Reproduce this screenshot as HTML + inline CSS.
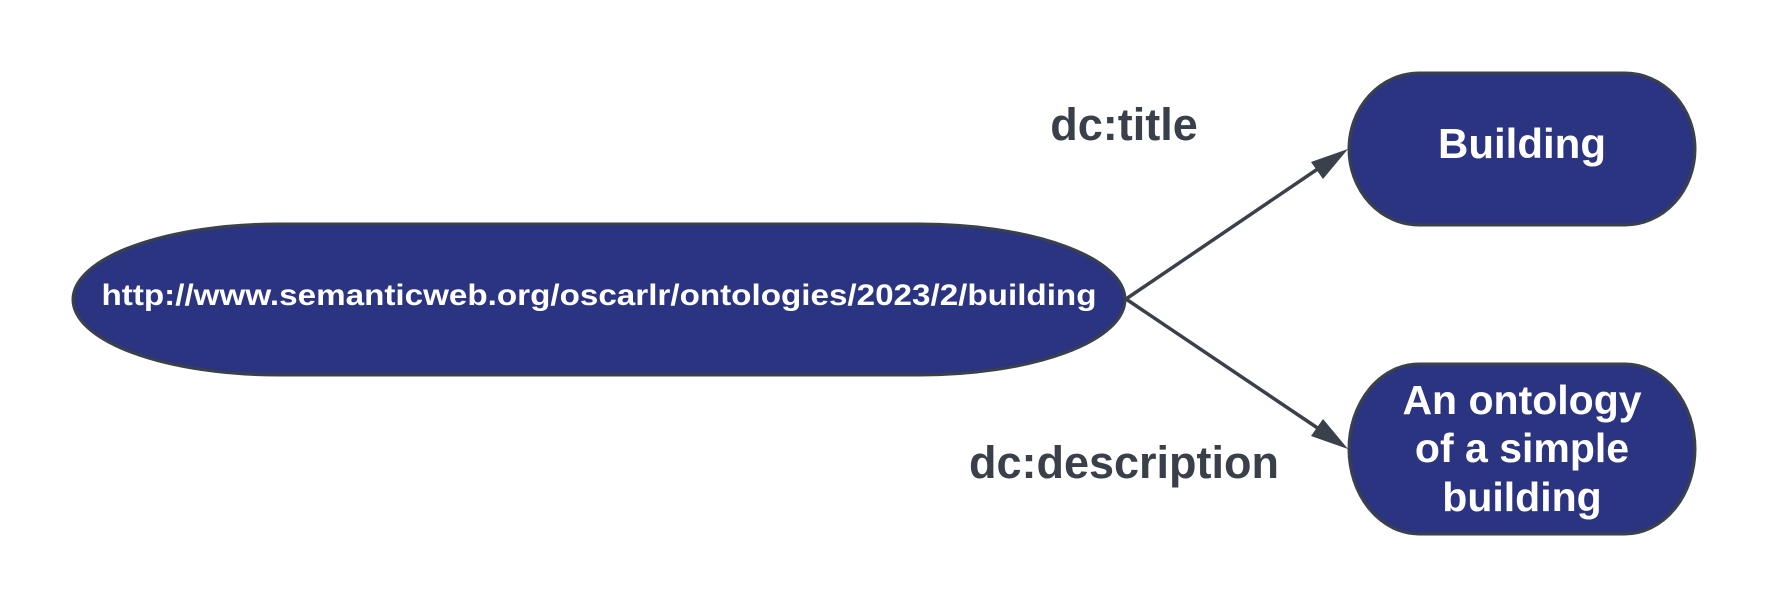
<!DOCTYPE html>
<html><head><meta charset="utf-8"><style>
html,body{margin:0;padding:0;background:#fff;}
body{width:1770px;height:609px;overflow:hidden;}
</style></head><body>
<svg width="1770" height="609" viewBox="0 0 1770 609" xmlns="http://www.w3.org/2000/svg" font-family="Liberation Sans, sans-serif" font-weight="bold">
<rect x="73" y="224" width="1052" height="151" rx="205" ry="75.5" fill="#2b3481" stroke="#3a414a" stroke-width="3"/>
<rect x="1349" y="73" width="346" height="152" rx="70" ry="76" fill="#2b3481" stroke="#3a414a" stroke-width="3"/>
<rect x="1349" y="364" width="346" height="170" rx="70" ry="85" fill="#2b3481" stroke="#3a414a" stroke-width="3"/>
<line x1="1126" y1="299" x2="1325" y2="164" stroke="#3a414a" stroke-width="3.5"/>
<polygon points="1348,149 1323,179 1311,162" fill="#3a414a"/>
<line x1="1126" y1="299" x2="1325" y2="433" stroke="#3a414a" stroke-width="3.5"/>
<polygon points="1348,449 1311,436 1323,419" fill="#3a414a"/>
<text x="599" y="305" font-size="30" fill="#fff" text-anchor="middle" textLength="995" lengthAdjust="spacingAndGlyphs">http://www.semanticweb.org/oscarlr/ontologies/2023/2/building</text>
<text x="1522" y="158" font-size="42" fill="#fff" text-anchor="middle">Building</text>
<text x="1522" y="414" font-size="41" fill="#fff" text-anchor="middle">An ontology</text>
<text x="1522" y="462" font-size="41" fill="#fff" text-anchor="middle">of a simple</text>
<text x="1522" y="511" font-size="41" fill="#fff" text-anchor="middle">building</text>
<text x="1124" y="140" font-size="45" fill="#39404a" text-anchor="middle">dc:title</text>
<text x="1124" y="478" font-size="45" fill="#39404a" text-anchor="middle">dc:description</text>
</svg>
</body></html>
